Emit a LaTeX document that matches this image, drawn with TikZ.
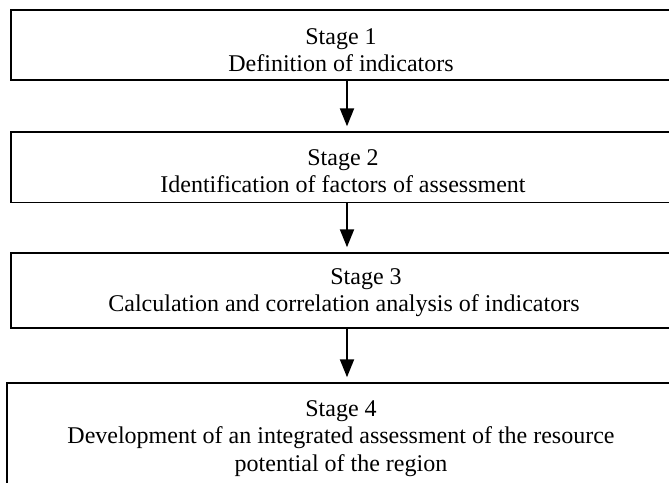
\documentclass[tikz,border=0pt]{standalone}
\usepackage{fontspec}
\setmainfont{Liberation Serif}
\usetikzlibrary{arrows.meta}
\begin{document}
\begin{tikzpicture}[x=1pt,y=-1pt,
  stagebox/.style={draw=black,line width=1.5pt,rectangle,inner sep=0pt,minimum width=672pt},
  stagetext/.style={anchor=north,inner sep=0pt,align=center,font=\fontsize{24}{27.5}\selectfont},
  flow/.style={line width=2pt,-{Triangle[width=14pt,length=18pt]},shorten >=5pt}]
\useasboundingbox (0,0) rectangle (669,482);
\clip (0,0) rectangle (669,482);
\node[stagebox,line width=2.3pt,minimum height=70pt] (b1) at (347,45) {};
\node[stagebox,minimum height=70.5pt] (b2) at (347,167.3) {};
\node[stagebox,minimum height=75pt] (b3) at (347,290.5) {};
\node[stagebox,minimum width=680pt,minimum height=140pt] (b4) at (347,453) {};
\node[stagetext] (t1) at (341,28) {Stage 1\\Definition of indicators};
\node[stagetext] (t2) at (343,149) {Stage 2\\Identification of factors of assessment};
\node[stagetext] (t3) at (344,268) {\hspace*{44pt}Stage 3\\Calculation and correlation analysis of indicators};
\node[stagetext] (t4) at (341,400) {Stage 4\\Development of an integrated assessment of the resource\\potential of the region};
\draw[flow] (b1.south) -- (b2.north);
\draw[flow] (b2.south) -- (b3.north);
\draw[flow] (b3.south) -- (b4.north);
\end{tikzpicture}
\end{document}
